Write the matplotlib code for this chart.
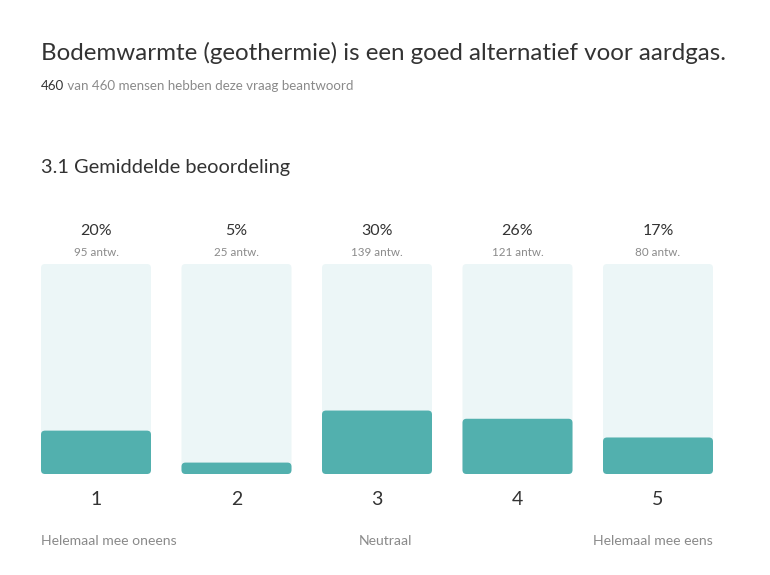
import matplotlib
matplotlib.use("Agg")
import matplotlib.pyplot as plt
from matplotlib.patches import FancyBboxPatch

plt.rcParams['font.family'] = ['Lato', 'DejaVu Sans']

categories = ["1", "2", "3", "4", "5"]
counts = [95, 25, 139, 121, 80]
pct_labels = ["20%", "5%", "30%", "26%", "17%"]
total = 460
scale_labels = ["Helemaal mee oneens", "Neutraal", "Helemaal mee eens"]

TEAL = "#52b0ae"
BG = "#ecf6f7"
DARK = "#333333"
GREY = "#8a8a8a"

W, H = 770, 575
fig = plt.figure(figsize=(W / 100, H / 100), dpi=100)

def fx(px):
    return px / W

def fy(py):
    return 1 - py / H

fig.text(fx(41), fy(53), "Bodemwarmte (geothermie) is een goed alternatief voor aardgas.",
         fontsize=17.35, color=DARK, va="center", ha="left")
t1 = fig.text(fx(41), fy(86), f"{total}", fontsize=9.6, color=DARK, va="center", ha="left")
fig.canvas.draw()
r = fig.canvas.get_renderer()
ext = t1.get_window_extent(r)
fig.text(ext.x1 / W, fy(86), f" van {total} mensen hebben deze vraag beantwoord",
         fontsize=9.6, color=GREY, va="center", ha="left")
fig.text(fx(41), fy(168), "3.1 Gemiddelde beoordeling", fontsize=14.4, color=DARK,
         va="center", ha="left")

# axes: bar centres at 0..4, y in percent (0..100)
left_px, right_px = 25.75, 728.25
top_px, bot_px = 264, 474
ax = fig.add_axes([fx(left_px), fy(bot_px), fx(right_px - left_px), (bot_px - top_px) / H])
ax.set_xlim(-0.5, 4.5)
ax.set_ylim(0, 100)
ax.axis("off")

bw = 110 / 140.5
px_per_x = (right_px - left_px) / 5
px_per_y = (bot_px - top_px) / 100
rad_px = 4
rs = rad_px / px_per_x
masp = px_per_x / px_per_y

for i, c in enumerate(counts):
    v = c / total * 100
    bg = FancyBboxPatch((i - bw / 2, 0), bw, 100,
                        boxstyle=f"round,pad=0,rounding_size={rs}",
                        mutation_aspect=masp, facecolor=BG, edgecolor="none")
    ax.add_patch(bg)
    fg = FancyBboxPatch((i - bw / 2, 0), bw, v,
                        boxstyle=f"round,pad=0,rounding_size={rs}",
                        mutation_aspect=masp, facecolor=TEAL, edgecolor="none")
    ax.add_patch(fg)
    ax.annotate(pct_labels[i], (i, 100), xytext=(0, 24), textcoords="offset points",
                ha="center", va="center", fontsize=11.5, color=DARK)
    ax.annotate(f"{c} antw.", (i, 100), xytext=(0, 8.5), textcoords="offset points",
                ha="center", va="center", fontsize=8.4, color=GREY)
    ax.annotate(categories[i], (i, 0), xytext=(0, -18.5), textcoords="offset points",
                ha="center", va="center", fontsize=14, color=DARK)

ax.annotate(scale_labels[0], (0 - bw / 2, 0), xytext=(0, -48), textcoords="offset points",
            ha="left", va="center", fontsize=10.1, color=GREY)
ax.annotate(scale_labels[1], (2, 0), xytext=(6, -48), textcoords="offset points",
            ha="center", va="center", fontsize=10.1, color=GREY)
ax.annotate(scale_labels[2], (4 + bw / 2, 0), xytext=(0, -48), textcoords="offset points",
            ha="right", va="center", fontsize=10.1, color=GREY)

fig.savefig("out.png", dpi=100)
